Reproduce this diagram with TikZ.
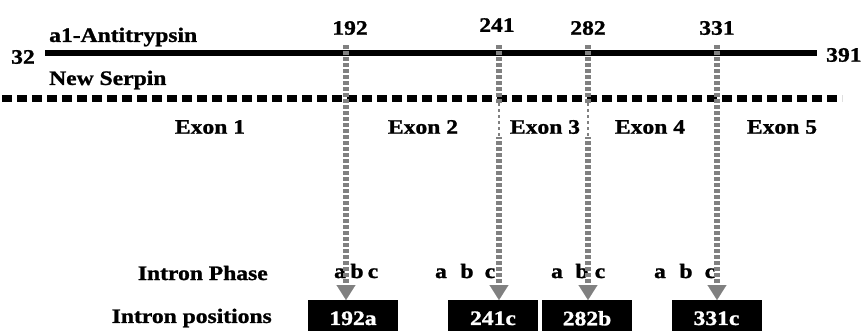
\documentclass[tikz,border=0pt]{standalone}
\usepackage{fontspec}
\setmainfont[FakeStretch=1.15,FakeBold=1.2]{Liberation Serif}
\usetikzlibrary{arrows.meta}
\definecolor{splicegray}{RGB}{128,128,128}
\begin{document}
\begin{tikzpicture}[x=1pt,y=-1pt,
  lbl/.style={font=\fontsize{20.5}{24}\selectfont\bfseries, inner sep=0pt},
  phase/.style={lbl, anchor=base},
  posbox/.style={lbl, fill=black, text=white, minimum width=90pt,
    minimum height=36pt, anchor=north, inner sep=0pt, text depth=0pt},
  splice/.style={draw=splicegray, line width=6pt, dash pattern=on 4pt off 2pt,
    -{Triangle[width=19pt,length=15pt,line width=0.1pt]}},
  thinsplice/.style={draw=splicegray, line width=1.5pt, dash pattern=on 3pt off 3pt},
  protein/.style={line width=6pt},
  serpin/.style={line width=7pt, dash pattern=on 10pt off 5pt},
]
\useasboundingbox (0,0) rectangle (863,330);
\clip (0,0) rectangle (863,330);

% protein backbones
\coordinate (aS) at (45,53);
\coordinate (aE) at (817,53);
\coordinate (sS) at (2,98);
\coordinate (sE) at (842,98);
\draw[protein] (aS) -- (aE);
\draw[serpin] (sS) -- (sE);

\node[lbl, anchor=west] (n32) at (11,57) {32};
\node[lbl, anchor=west] (n391) at (826,55) {391};
\node[lbl, anchor=west] (aat) at (49,37) {a1-Antitrypsin};
\node[lbl, anchor=west] (ns) at (49,80) {New Serpin};

% residue numbers
\node[lbl] (r192) at (350,28) {192};
\node[lbl] (r241) at (497,25) {241};
\node[lbl] (r282) at (588,28) {282};
\node[lbl] (r331) at (717,28) {331};

% exons
\node[lbl] (e1) at (210,127) {Exon 1};
\node[lbl] (e2) at (423,127) {Exon 2};
\node[lbl] (e3) at (545,127) {Exon 3};
\node[lbl] (e4) at (650,127) {Exon 4};
\node[lbl] (e5) at (782,127) {Exon 5};

% row labels
\node[lbl, anchor=east] (iph) at (268,273) {Intron Phase};
\node[lbl, anchor=east] (ipos) at (272,318) {Intron positions};

% intron phase letters
\foreach \p/\xa/\xb/\xc in {192/340/357/373, 241/441/467/490, 282/557/582/600, 331/660/686/710}{
  \node[phase] (ph\p a) at (\xa,278) {a};
  \node[phase] (ph\p b) at (\xb,278) {b};
  \node[phase] (ph\p c) at (\xc,278) {c};
}

% intron position boxes
\node[posbox] (b192) at (353,300) {192a};
\node[posbox] (b241) at (493,300) {241c};
\node[posbox] (b282) at (587,300) {282b};
\node[posbox] (b331) at (716.5,300) {331c};

% splice site arrows
\coordinate (t192) at (346,45);
\coordinate (t241) at (499,45);
\coordinate (t282) at (588,45);
\coordinate (t331) at (717,45);
\foreach \p in {192,241,282,331}{
  \draw[splice] (t\p) -- (t\p |- b\p.north);
}
% lighter stretch across the exon label band
\foreach \p in {241,282}{
  \fill[white] ([xshift=-4pt]t\p |- 0,103) rectangle ([xshift=4pt]t\p |- 0,137);
  \draw[thinsplice] (t\p |- 0,103) -- (t\p |- 0,137);
}
\end{tikzpicture}
\end{document}
